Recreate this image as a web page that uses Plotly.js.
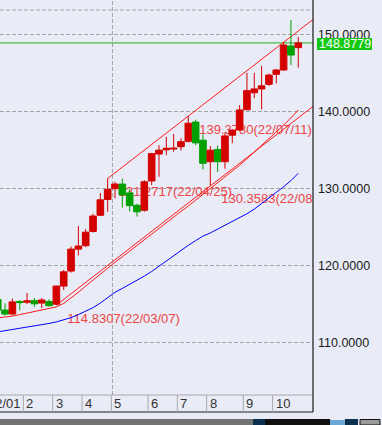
<!DOCTYPE html>
<html><head><meta charset="utf-8">
<script src="https://cdn.plot.ly/plotly-3.0.1.min.js"></script>
<style>html,body{margin:0;padding:0;background:#e9ecf6;overflow:hidden}</style>
</head><body><div id="chart" style="width:382px;height:425px"></div>
<script>
// ---- data (weekly USD/JPY 2022, index 0 = week of 22/01/03) ----
const weekIndex = [0,1,2,3,4,5,6,7,8,9,10,11,12,13,14,15,16,17,18,19,20,21,22,23,24,25,26,27,28,29,30,31,32,33,34,35,36,37,38,39,40,41,42];
const openV  = [115.08,115.56,114.19,113.67,115.30,115.20,115.40,115.10,115.30,114.95,117.30,119.25,122.10,122.55,124.40,126.50,128.55,129.95,130.55,129.40,127.80,127.15,130.95,134.45,135.00,135.10,135.40,136.10,138.60,136.25,133.45,135.05,133.45,136.90,137.57,140.20,142.40,142.90,143.50,144.80,145.36,148.48,148.26];
const highV  = [116.35,115.84,115.06,115.68,115.50,116.40,115.75,115.75,115.60,117.35,119.40,122.45,125.10,124.70,126.70,129.40,131.2717,130.85,131.25,129.85,128.00,131.05,134.60,135.60,136.70,137.05,136.50,139.378,138.90,137.00,135.50,135.55,137.25,137.70,140.80,145.00,145.00,145.90,144.90,145.50,148.96,151.85,149.65];
const lowV   = [115.00,113.49,113.47,113.47,114.15,114.97,114.60,114.45,114.65,114.8307,116.80,119.05,121.28,122.35,124.25,126.40,126.95,128.70,127.50,127.00,126.33,126.95,130.40,131.50,134.30,134.75,134.90,135.95,135.60,132.45,130.3583,132.10,132.55,135.85,137.50,140.15,141.70,140.26,143.30,143.60,145.30,146.00,145.66];
const closeV = [115.56,114.19,113.67,115.25,115.15,115.40,115.00,115.50,114.75,117.30,119.15,122.10,122.50,124.30,126.40,128.50,129.85,130.55,129.15,127.75,126.95,130.85,134.50,134.95,135.20,135.20,136.05,138.45,135.90,133.25,134.95,133.45,136.80,137.55,140.17,142.68,142.90,143.30,144.70,145.36,148.60,147.30,148.8779];
const maRed  = [113.05,113.15,113.25,113.40,113.60,113.80,114.00,114.20,114.40,114.60,115.05,115.75,116.50,117.30,118.10,118.90,119.65,120.40,121.10,121.85,122.60,123.30,124.05,124.80,125.50,126.25,127.00,127.70,128.45,129.20,129.95,130.70,131.45,132.20,133.00,133.85,134.70,135.55,136.40,137.30,138.20,139.15,140.15];
const maBlue = [111.20,111.35,111.50,111.65,111.80,111.95,112.10,112.25,112.45,112.65,112.90,113.20,113.60,114.00,114.50,115.10,115.80,116.50,117.00,117.50,118.00,118.60,119.20,119.90,120.60,121.30,122.00,122.60,123.20,123.80,124.20,124.70,125.10,125.60,126.10,126.70,127.30,128.00,128.70,129.40,130.20,131.00,131.95];
const pivotIdx  = [9, 16, 27, 30];
const pivotVal  = [114.8307, 131.2717, 139.3780, 130.3583];
const pivotDate = ['22/03/07', '22/04/25', '22/07/11', '22/08/01'];
const monthLabels = ['2','3','4','5','6','7','8','9','10'];
const monthStartWeek = [5, 9, 13, 17, 22, 26, 30, 35, 39];
const firstMonthLabel = '22/01';
const yTicks = [110, 120, 130, 140, 150];

// ---- layout geometry ----
const W = 382, H = 425, ML = 0, MR = 69, MT = 0, MB = 30;
const PW = W - ML - MR, PH = H - MT - MB;
const xMin = 1.31, xMax = 44.01, yMin = 103.16, yMax = 154.45;
const pxX = PW / (xMax - xMin), pxY = PH / (yMax - yMin);
const py = p => (PH - p) / PH;      // pixel row (from top) -> paper y
const px = p => p / PW;             // pixel col -> paper x

const RED = '#d40000', GREEN = '#00a000', LINE_RED = '#ff1a1a', TXT_RED = '#ee4444';
const BG = '#e9ecf6';
const FONT = 'Liberation Sans, Arial, sans-serif';

const lastClose = closeV[closeV.length - 1];
const slope = (pivotVal[2] - pivotVal[1]) / (pivotIdx[2] - pivotIdx[1]);

const traces = [
  { // pivot labels (under candles)
    type: 'scatter', mode: 'text', xaxis: 'x', yaxis: 'y',
    x: pivotIdx.map(i => i + 11 / pxX),
    y: pivotVal.map(v => v - 14.5 / pxY),
    text: pivotVal.map((v, k) => v.toFixed(4) + '(' + pivotDate[k] + ')'),
    textposition: 'middle right',
    textfont: { family: FONT, size: 13, color: TXT_RED },
    hoverinfo: 'skip', cliponaxis: true
  },
  { // upper channel line
    type: 'scatter', mode: 'lines', xaxis: 'x', yaxis: 'y',
    x: [pivotIdx[1], xMax + 1],
    y: [pivotVal[1], pivotVal[1] + slope * (xMax + 1 - pivotIdx[1])],
    line: { color: LINE_RED, width: 1 }, hoverinfo: 'skip'
  },
  { // lower channel line (parallel)
    type: 'scatter', mode: 'lines', xaxis: 'x', yaxis: 'y',
    x: [pivotIdx[0], xMax + 1],
    y: [pivotVal[0], pivotVal[0] + slope * (xMax + 1 - pivotIdx[0])],
    line: { color: LINE_RED, width: 1 }, hoverinfo: 'skip'
  },
  {
    type: 'scatter', mode: 'lines', xaxis: 'x', yaxis: 'y',
    x: weekIndex, y: maRed, line: { color: LINE_RED, width: 1 }, hoverinfo: 'skip'
  },
  {
    type: 'scatter', mode: 'lines', xaxis: 'x', yaxis: 'y',
    x: weekIndex, y: maBlue, line: { color: '#0000ff', width: 1 }, hoverinfo: 'skip'
  },
  {
    type: 'candlestick', xaxis: 'x2', yaxis: 'y2',
    x: weekIndex, open: openV, high: highV, low: lowV, close: closeV,
    increasing: { line: { color: RED, width: 1 }, fillcolor: RED },
    decreasing: { line: { color: GREEN, width: 1 }, fillcolor: GREEN },
    whiskerwidth: 0, hoverinfo: 'skip'
  }
];

const stripBottom = py(412);
const shapes = [
  // extra top dashed grid line
  { type: 'line', layer: 'below', xref: 'paper', yref: 'paper', x0: 0, x1: 1, y0: py(10), y1: py(10),
    line: { color: '#a4a4a4', width: 1, dash: '4px,2px' } },
  // vertical dashed grid at May
  { type: 'line', layer: 'below', xref: 'x', yref: 'paper', x0: 16.65, x1: 16.65, y0: 0, y1: 1,
    line: { color: '#a4a4a4', width: 1, dash: '4px,2px' } },
  // current price line
  { type: 'line', layer: 'below', xref: 'paper', yref: 'y', x0: 0, x1: 1, y0: lastClose, y1: lastClose,
    line: { color: '#1cb41c', width: 1 } },
  // x strip top line
  { type: 'line', xref: 'paper', yref: 'paper', x0: 0, x1: 1, y0: 0, y1: 0,
    line: { color: '#a8a8a8', width: 1 } },
  // bottom black line
  { type: 'line', xref: 'paper', yref: 'paper', x0: 0, x1: 1, y0: stripBottom, y1: stripBottom,
    line: { color: '#1a1a1a', width: 1 } },
  // right black axis line
  { type: 'line', xref: 'paper', yref: 'paper', x0: 1, x1: 1, y0: stripBottom, y1: 1,
    line: { color: '#1a1a1a', width: 1.2 } },
  // price box
  { type: 'rect', layer: 'above', xref: 'paper', yref: 'y', x0: px(317), x1: px(372),
    y0: lastClose - 7 / pxY, y1: lastClose + 5 / pxY, fillcolor: '#14c814', line: { width: 0 } },
  // bottom scrollbar
  { type: 'rect', xref: 'paper', yref: 'paper', x0: px(0), x1: px(253), y0: py(425), y1: py(419), fillcolor: '#737373', line: { width: 0 } },
  { type: 'rect', xref: 'paper', yref: 'paper', x0: px(253), x1: px(265), y0: py(425), y1: py(419), fillcolor: '#0c3050', line: { width: 0 } },
  { type: 'rect', xref: 'paper', yref: 'paper', x0: px(265), x1: px(330), y0: py(425), y1: py(419), fillcolor: '#111111', line: { width: 0 } },
  { type: 'rect', xref: 'paper', yref: 'paper', x0: px(330), x1: px(345), y0: py(425), y1: py(420), fillcolor: '#6aa8d8', line: { width: 0 } },
  { type: 'rect', xref: 'paper', yref: 'paper', x0: px(345), x1: px(358), y0: py(425), y1: py(419), fillcolor: '#0c3050', line: { width: 0 } },
  { type: 'rect', xref: 'paper', yref: 'paper', x0: px(360), x1: px(380), y0: py(425), y1: py(419.5), fillcolor: '#9a9a9a', line: { color: '#111', width: 1 } }
];
monthStartWeek.forEach(s => {
  shapes.push({ type: 'line', xref: 'x', yref: 'paper', x0: s - 0.5, x1: s - 0.5, y0: stripBottom, y1: 0,
    line: { color: '#a8a8a8', width: 1 } });
});

const annotations = [];
monthStartWeek.forEach((s, k) => {
  annotations.push({ xref: 'x', yref: 'paper', x: s - 0.5, y: py(403.5), xanchor: 'left', yanchor: 'middle',
    xshift: 1, text: monthLabels[k], showarrow: false, font: { family: FONT, size: 13, color: '#333' } });
});
annotations.push({ xref: 'paper', yref: 'paper', x: px(23), y: py(403.5), xanchor: 'right', yanchor: 'middle',
  text: firstMonthLabel, showarrow: false, font: { family: FONT, size: 13, color: '#333' } });
annotations.push({ xref: 'paper', yref: 'y', x: px(344.5), y: lastClose - 1 / pxY, xanchor: 'center', yanchor: 'middle',
  text: lastClose.toFixed(4), showarrow: false, font: { family: FONT, size: 12.5, color: '#ffffff' } });

const layout = {
  width: W, height: H,
  margin: { l: ML, r: MR, t: MT, b: MB, pad: 0 },
  paper_bgcolor: BG, plot_bgcolor: BG,
  showlegend: false,
  boxgap: 0.05, boxgroupgap: 0.05,
  xaxis: { range: [xMin, xMax], visible: false, showgrid: false, zeroline: false, fixedrange: true },
  yaxis: {
    range: [yMin, yMax], side: 'right', tickvals: yTicks, tickformat: '.4f',
    showgrid: true, gridcolor: '#a4a4a4', gridwidth: 1, griddash: '4px,2px',
    zeroline: false, showline: false, ticks: '', ticklabelstandoff: 4,
    tickfont: { family: FONT, size: 12.5, color: '#1a1a1a' }, fixedrange: true
  },
  xaxis2: { range: [xMin, xMax], overlaying: 'x', visible: false, showgrid: false, zeroline: false, rangeslider: { visible: false }, fixedrange: true },
  yaxis2: { range: [yMin, yMax], overlaying: 'y', side: 'right', visible: false, showgrid: false, zeroline: false, fixedrange: true },
  shapes: shapes,
  annotations: annotations
};

Plotly.newPlot('chart', traces, layout, { staticPlot: true, displayModeBar: false });
</script>
</body></html>
